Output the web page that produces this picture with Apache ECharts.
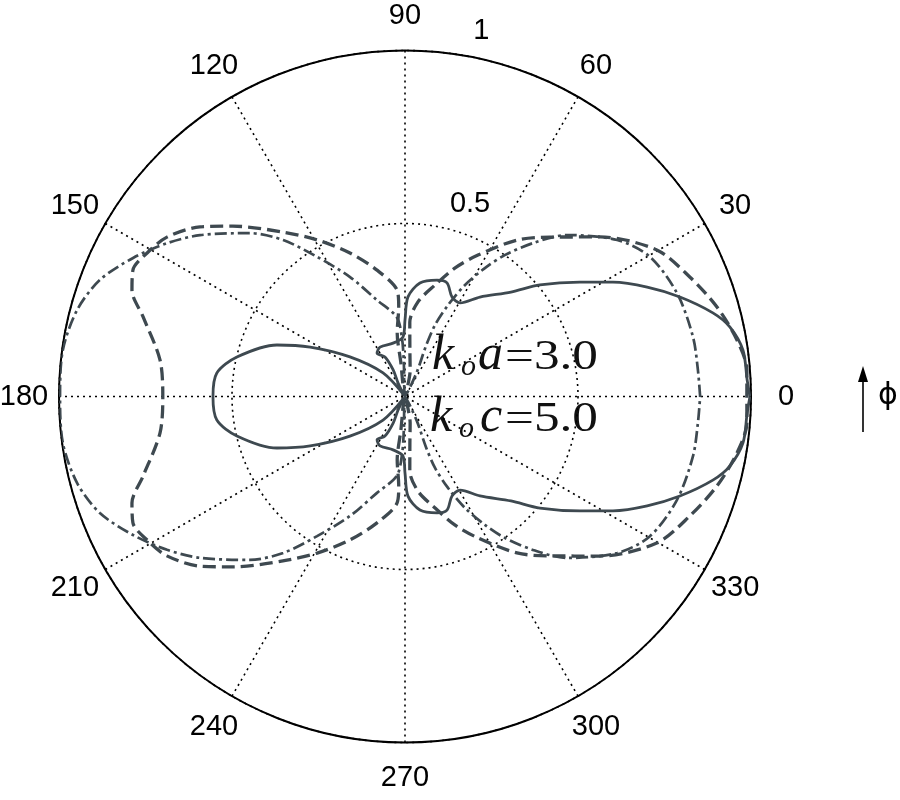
<!DOCTYPE html>
<html><head><meta charset="utf-8">
<script src="https://cdn.jsdelivr.net/npm/echarts@6/dist/echarts.min.js"></script>
<style>html,body{margin:0;padding:0;background:#fff}#c{width:900px;height:800px}</style>
</head><body><div id="c"></div>
<script>
// Tick labels
const angleTickLabels = ['0','30','60','90','120','150','180','210','240','270','300','330'];
const radiusTickLabels = ['', '0.5', '1'];

// Solid curve (angle in degrees, radius)
const solidAngles = [0, 2.8, 7.8, 12.1, 15.2, 19.9, 24.3, 28.8, 33.2, 39.6, 44.6, 53, 59.5, 64.7, 69.7, 74.6, 82.5, 88.3, 90, 92, 102.6, 116.8, 122.8, 116.9, 114, 117, 125, 133, 144.3, 152.5, 158.1, 166.8, 172.9, 180,
  187.1, 193.2, 201.9, 207.5, 215.7, 227, 235, 243, 246, 243.1, 237.2, 243.2, 257.4, 268, 270, 271.7, 277.5, 285.4, 290.3, 295.3, 300.5, 307, 315.4, 320.4, 326.8, 331.2, 335.7, 340.1, 344.8, 347.9, 352.2, 357.2, 360];
const solidRadii = [0.997, 0.99, 0.986, 0.96, 0.922, 0.845, 0.768, 0.686, 0.604, 0.506, 0.43, 0.36, 0.314, 0.318, 0.35, 0.349, 0.331, 0.288, 0.221, 0.172, 0.158, 0.16, 0.149, 0.128, 0.084, 0.044, 0.005, 0.093, 0.196, 0.309, 0.399, 0.499, 0.548, 0.555,
  0.548, 0.499, 0.399, 0.309, 0.196, 0.093, 0.005, 0.044, 0.084, 0.128, 0.149, 0.16, 0.158, 0.172, 0.221, 0.288, 0.331, 0.349, 0.35, 0.318, 0.314, 0.36, 0.43, 0.506, 0.604, 0.686, 0.768, 0.845, 0.922, 0.96, 0.986, 0.99, 0.997];

// Dashed curve
const dashedAngles = [0, 4.4, 9.7, 16, 22.7, 30.2, 39.3, 47.7, 54.4, 62.7, 68.7, 74.9, 82.2, 86.3, 84, 79, 76, 80, 97, 97, 94, 94.3, 102.5, 111, 119.3, 126.6, 135.3, 140.4, 146.2, 150.9, 155.1, 158.7, 163.1, 171.5, 180,
  188.5, 196.9, 201.3, 204.9, 209.1, 213.8, 219.6, 224.7, 233.4, 240.7, 249, 257.5, 265.7, 266, 263, 263, 280, 284, 281, 276, 273.7, 277.8, 285.1, 291.3, 297.3, 305.6, 312.3, 320.7, 329.8, 337.3, 344, 350.3, 355.6, 360];
const dashedRadii = [0.988, 0.991, 0.973, 0.938, 0.893, 0.842, 0.728, 0.623, 0.556, 0.46, 0.399, 0.334, 0.276, 0.215, 0.135, 0.078, 0.035, 0, 0.1, 0.185, 0.26, 0.309, 0.374, 0.444, 0.519, 0.592, 0.70, 0.769, 0.828, 0.853, 0.867, 0.847, 0.791, 0.716, 0.70,
  0.716, 0.791, 0.847, 0.867, 0.853, 0.828, 0.769, 0.70, 0.592, 0.519, 0.444, 0.374, 0.309, 0.26, 0.185, 0.1, 0, 0.035, 0.078, 0.135, 0.215, 0.276, 0.334, 0.399, 0.46, 0.556, 0.623, 0.728, 0.842, 0.893, 0.938, 0.973, 0.991, 0.988];

// Dash-dot curve
const dashDotAngles = [0, 5.2, 11.7, 20.8, 29.7, 36.4, 44.9, 50, 54.8, 58.1, 61.7, 64.8, 67.2, 67.5, 64, 60, 90, 92, 93, 96, 106.2, 114.7, 122.2, 127.9, 133.5, 141.8, 147.2, 153, 159.1, 165.2, 172.3, 180,
  187.7, 194.8, 200.9, 207, 212.8, 218.2, 226.5, 232.1, 237.8, 245.3, 253.8, 264, 267, 268, 270, 300, 296, 292.5, 292.8, 295.2, 298.3, 301.9, 305.2, 310, 315.1, 323.6, 330.3, 339.2, 348.3, 354.8, 360];
const dashDotRadii = [0.853, 0.85, 0.85, 0.841, 0.815, 0.762, 0.661, 0.58, 0.50, 0.437, 0.366, 0.292, 0.224, 0.16, 0.076, 0, 0, 0.1, 0.17, 0.231, 0.29, 0.38, 0.477, 0.573, 0.651, 0.754, 0.818, 0.882, 0.944, 0.98, 0.998, 0.997,
  0.998, 0.98, 0.944, 0.882, 0.818, 0.754, 0.651, 0.573, 0.477, 0.38, 0.29, 0.231, 0.17, 0.1, 0, 0, 0.076, 0.16, 0.224, 0.292, 0.366, 0.437, 0.50, 0.58, 0.661, 0.762, 0.815, 0.841, 0.85, 0.85, 0.853];

function pairs(radii, angles) { return radii.map(function (r, i) { return [r, angles[i]]; }); }

const curveColor = '#3e4950';
const CX = 405, CY = 396.5, R = 346;
const sansFont = '"Liberation Sans", Arial, sans-serif';
const serif = '"Liberation Serif", "Times New Roman", serif';
const textInk = '#111';

function italic(t, x, y, size) {
  return { type: 'text', x: x, y: y, style: { text: t, font: 'italic ' + size + 'px ' + serif, fill: textInk, align: 'left', verticalAlign: 'middle' } };
}
function roman(t, x, y) {
  return { type: 'group', x: x, y: y, scaleX: 1.22, children: [
    { type: 'text', x: 0, y: 0, style: { text: t, font: '42px ' + serif, fill: textInk, align: 'left', verticalAlign: 'middle' } }
  ] };
}

const chart = echarts.init(document.getElementById('c'), null, { renderer: 'canvas' });

chart.setOption({
  animation: false,
  backgroundColor: '#fff',
  polar: [
    { center: [CX, CY], radius: R },
    { center: [CX, CY], radius: R }
  ],
  angleAxis: [
    {
      polarIndex: 0, type: 'value', startAngle: 0, clockwise: false,
      min: 0, max: 360, interval: 30,
      axisLine: { lineStyle: { color: '#000', width: 2 } },
      axisTick: { show: false },
      axisLabel: {
        margin: 34, color: '#000',
        formatter: function (v) {
          const l = angleTickLabels[Math.round(v / 30)];
          return l === undefined ? '' : '{c|' + l + '}';
        },
        rich: {
          c: { width: 2, lineHeight: 2, height: 2, align: 'center', verticalAlign: 'middle', fontSize: 29, fontFamily: sansFont, color: '#000' }
        }
      },
      splitLine: { lineStyle: { color: '#000', width: 1.6, type: [2, 4] } }
    },
    { polarIndex: 1, type: 'value', startAngle: 86.3, clockwise: false, min: 0, max: 360, show: false }
  ],
  radiusAxis: [
    {
      polarIndex: 0, type: 'value', min: 0, max: 1, interval: 0.5,
      axisLine: { show: false }, axisTick: { show: false }, axisLabel: { show: false },
      splitLine: { lineStyle: { color: '#000', width: 1.6, type: [2, 4] } }
    },
    {
      polarIndex: 1, type: 'value', min: 0, max: 1, interval: 0.5,
      axisLine: { show: false }, axisTick: { show: false }, splitLine: { show: false },
      axisLabel: {
        margin: -54, fontSize: 29, color: '#000', fontFamily: sansFont,
        align: 'center', verticalAlign: 'bottom', padding: [0, 0, 9, 0],
        formatter: function (v) { const l = radiusTickLabels[Math.round(v / 0.5)]; return l === undefined ? '' : l; }
      }
    }
  ],
  series: [
    {
      type: 'line', coordinateSystem: 'polar', polarIndex: 0, name: 'solid',
      data: pairs(solidRadii, solidAngles), showSymbol: false, smooth: 0.3,
      lineStyle: { color: curveColor, width: 2.8, type: 'solid' }
    },
    {
      type: 'line', coordinateSystem: 'polar', polarIndex: 0, name: 'dashed',
      data: pairs(dashedRadii, dashedAngles), showSymbol: false, smooth: 0.3,
      lineStyle: { color: curveColor, width: 3.3, type: [13, 6] }
    },
    {
      type: 'line', coordinateSystem: 'polar', polarIndex: 0, name: 'dashdot',
      data: pairs(dashDotRadii, dashDotAngles), showSymbol: false, smooth: 0.3,
      lineStyle: { color: curveColor, width: 2.7, type: [12, 4, 3, 4] }
    }
  ],
  graphic: [
    { type: 'line', shape: { x1: 863, y1: 432, x2: 863, y2: 378 }, style: { stroke: '#000', lineWidth: 1.6 } },
    { type: 'polygon', shape: { points: [[863, 366], [858, 382], [868, 382]] }, style: { fill: '#000' } },
    { type: 'text', x: 888, y: 396, style: { text: '\u03D5', font: '30px "DejaVu Sans"', fill: '#000', align: 'center', verticalAlign: 'middle' } },
    italic('k', 432, 356, 50), italic('o', 461, 367, 30), italic('a', 478, 356, 50), roman('=3.0', 505, 358),
    italic('k', 430, 418, 50), italic('o', 459, 429, 30), italic('c', 480, 418, 50), roman('=5.0', 505, 420)
  ]
});
</script>
</body></html>
